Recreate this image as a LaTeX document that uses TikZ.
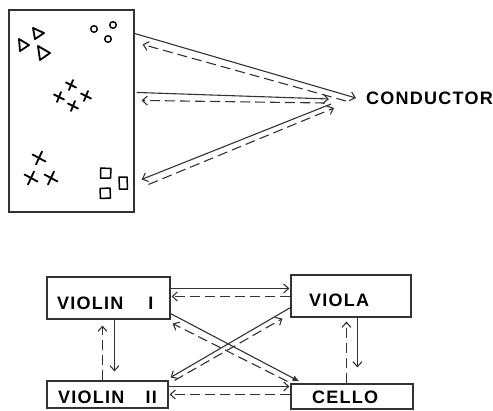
\documentclass[tikz,border=0pt]{standalone}
\usepackage{fontspec}
\usetikzlibrary{arrows.meta,calc}
\newfontfamily\lblfont[LetterSpace=7]{Liberation Sans}
\begin{document}
\begin{tikzpicture}[x=1pt,y=-1pt,
  ink/.style={draw=black!80,line width=1.1pt},
  box/.style={ink,rectangle,inner sep=0pt},
  lbl/.style={inner sep=0pt,anchor=west,text height=12.9pt,text depth=0pt,
    font=\lblfont\bfseries\fontsize{18}{18}\selectfont},
  tip/.style={-{Straight Barb[length=5pt,width=9pt]}},
  fulltip/.style={-{Latex[length=7pt,width=6pt]}},
  solidarr/.style={ink,tip},
  dasharr/.style={ink,tip,dash pattern=on 10pt off 5pt},
  glyph/.style={draw=black,line width=1.8pt,line cap=round,line join=round}]
\useasboundingbox (0,0) rectangle (493,410);

% ---- the stage with the players' positions ----
\node[box,minimum width=125pt,minimum height=202pt] (stage) at (71.5,111) {};
\node[lbl] (cond) at (366,98) {CONDUCTOR};

% triangles
\draw[glyph] (19,39) -- (29,45) -- (20,51) -- cycle;
\draw[glyph] (33,28) -- (44,33) -- (35,39) -- cycle;
\draw[glyph] (38,46) -- (50,53) -- (40,60) -- cycle;
% circles
\foreach \p in {(94,29),(113,25),(108,39)} \draw[glyph,line width=1.4pt] \p circle[radius=3.3];
% crosses
\foreach \p in {(71,85),(59,97),(86,96),(73,106)}
  \draw[glyph] \p ++(-5,-2.5) -- ++(10,5) \p ++(-2,5) -- ++(4,-10);
\foreach \p in {(39,158),(31,178),(51,178)}
  \draw[glyph] \p ++(-6.5,-3.5) -- ++(13,7) \p ++(-3,6.5) -- ++(6,-13);
% squares
\draw[glyph,line width=1.5pt] (100.5,168) -- (111,168.5) -- (110.5,178) -- (100.5,178) -- cycle;
\draw[glyph,line width=1.5pt] (119,177) -- (127,177) -- (127.5,189) -- (119.5,189) -- cycle;
\draw[glyph,line width=1.5pt] (100,188.5) -- (110,188) -- (110.5,198) -- (100.5,198.5) -- cycle;

% cues between stage and conductor
\draw[solidarr] ($(stage.north east)+(0,24)$) -- ($(cond.west)+(-10,0)$);
\draw[dasharr] ($(cond.west)+(-20,3)$) -- ($(stage.north east)+(8,35)$);
\draw[solidarr] ($(stage.north east)+(2,83)$) -- ($(cond.west)+(-37,1)$);
\draw[dasharr] ($(cond.west)+(-41,5)$) -- ($(stage.north east)+(7,91)$);
\draw[solidarr] ($(cond.west)+(-35,6)$) -- ($(stage.north east)+(7,170)$);
\draw[dasharr] ($(stage.north east)+(14,175)$) -- ($(cond.west)+(-32,10)$);

% ---- the four sections ----
\node[box,minimum width=123pt,minimum height=42pt] (v1) at (108.5,298) {};
\node[box,minimum width=120pt,minimum height=42pt] (va) at (351,296) {};
\node[box,minimum width=121pt,minimum height=27pt] (v2) at (107.5,394.5) {};
\node[box,minimum width=122pt,minimum height=25pt] (vc) at (352,396.5) {};

\node[lbl] (v1t) at (57,303) {VIOLIN\hspace{25pt}I};
\node[lbl] (vat) at (309,300) {VIOLA};
\node[lbl] (v2t) at (58,397) {VIOLIN\hspace{21pt}II};
\node[lbl] (vct) at (312,397.5) {CELLO};

% horizontal links
\draw[solidarr] ($(v1.north east)+(0,12)$) -- ($(va.north west)+(-1,14)$);
\draw[dasharr] ($(va.north west)+(0,22)$) -- ($(v1.north east)+(1,20)$);
\draw[solidarr] ($(v2.north east)+(0,6)$) -- ($(vc.north west)+(-1,3)$);
\draw[dasharr] ($(vc.north west)+(0,11)$) -- ($(v2.north east)+(1,14)$);

% diagonal links
\draw[ink,fulltip] ($(v1.south east)+(0,-6)$) -- ($(vc.north west)+(9,-2)$);
\draw[dasharr] ($(vc.north west)+(-3,-2)$) -- ($(v1.south east)+(2,4)$);
\draw[solidarr] ($(va.south west)+(0,-10)$) -- ($(v2.north east)+(2,-3)$);
\draw[dasharr] ($(v2.north east)+(6,0)$) -- ($(va.south west)+(-8,1)$);

% vertical links
\draw[solidarr] ($(v1.south west)+(68,0)$) -- ($(v2.north west)+(68,-9)$);
\draw[dasharr] ($(v2.north west)+(56,0)$) -- ($(v1.south west)+(56,6)$);
\draw[solidarr] ($(va.south west)+(67,0)$) -- ($(vc.north west)+(67,-16)$);
\draw[dasharr] ($(vc.north west)+(56,0)$) -- ($(va.south west)+(56,4)$);
\end{tikzpicture}
\end{document}
